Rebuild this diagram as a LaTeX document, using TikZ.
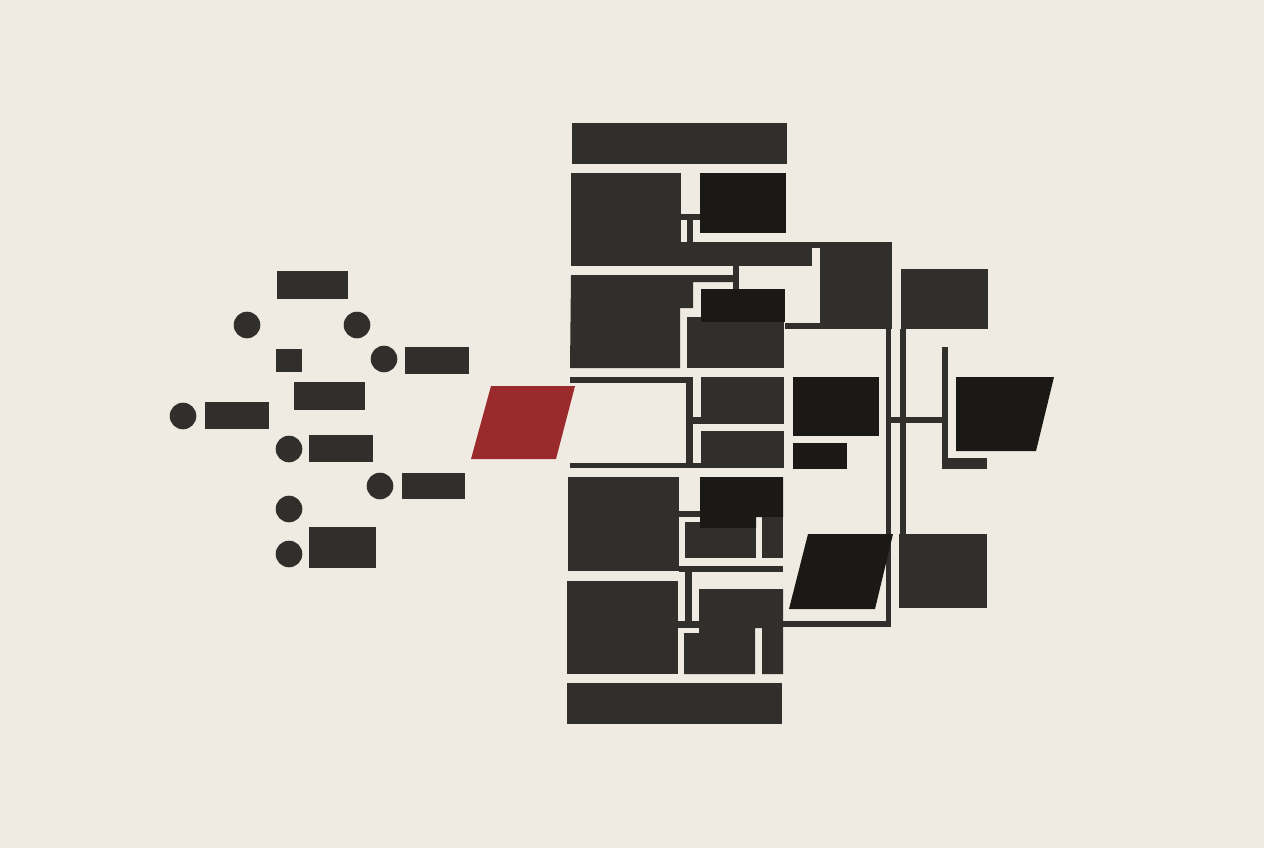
\documentclass[tikz,border=0pt]{standalone}
\usepackage{xcolor}
\definecolor{paper}{RGB}{239,235,226}
\definecolor{slab}{RGB}{48,47,44}
\definecolor{ink}{RGB}{26,25,22}
\definecolor{brick}{RGB}{155,42,44}

\begin{document}
\begin{tikzpicture}[x=0.02cm, y=-0.02cm,
        blk/.style={fill=slab},
        deep/.style={fill=ink},
        red/.style={fill=brick}]
    % paper
    \fill[paper] (0,0) rectangle (1264,848);
    \useasboundingbox (0,0) rectangle (1264,848);

    % loose dots and bars on the left
    \foreach \x/\y in {247/325, 357/325, 384/359, 183/416, 289/449, 380/486, 289/509, 289/554}
        \fill[blk] (\x,\y) circle (13.3);
    \foreach \a/\b/\c/\d in {277/271/348/299, 276/349/302/372, 405/347/469/374, 294/382/365/410,
                            205/402/269/429, 309/435/373/462, 402/473/465/499, 309/527/376/568}
        \fill[blk] (\a,\b) rectangle (\c,\d);

    % red slab
    \fill[red] (491,386) -- (575,386) -- (556,459) -- (471,459) -- cycle;

    % column: top
    \fill[blk] (572,123) rectangle (787,164);
    \fill[blk] (571,173) rectangle (681,266);
    \fill[blk] (681,214) rectangle (700,220);
    \fill[blk] (687,214) rectangle (693,242);
    \fill[blk] (571,242) rectangle (812,266);
    \fill[blk] (812,242) rectangle (820,248);
    \fill[blk] (820,242) rectangle (892,329);
    \fill[blk] (785,323) rectangle (892,329);
    \fill[deep] (700,173) rectangle (786,233);

    % column: second row
    \fill[blk] (571,275) -- (733,275) -- (733,282) -- (693,282) -- (693,308)
        -- (680,308) -- (680,368) -- (570,368) -- cycle;
    \fill[blk] (733,266) rectangle (739,290);
    \fill[blk] (687,317) rectangle (784,368);
    \fill[deep] (701,289) rectangle (785,322);

    % column: open frame
    \fill[blk] (570,377) rectangle (693,383);
    \fill[blk] (686,377) rectangle (693,468);
    \fill[blk] (570,463) rectangle (784,468);
    \fill[blk] (693,417) rectangle (701,424);
    \fill[blk] (701,377) rectangle (784,424);
    \fill[blk] (701,431) rectangle (784,468);

    % column: fourth row
    \fill[blk] (568,477) rectangle (679,571);
    \fill[blk] (679,511) rectangle (700,517);
    \fill[blk] (685,522) rectangle (756,558);
    \fill[deep] (700,477) -- (783,477) -- (783,517) -- (756,517) -- (756,528) -- (700,528) -- cycle;
    \fill[blk] (762,517) rectangle (783,558);
    \fill[blk] (679,566) rectangle (783,572);
    \fill[blk] (685,572) rectangle (692,621);

    % column: fifth row and base
    \fill[blk] (567,581) rectangle (678,674);
    \fill[blk] (678,621) rectangle (699,628);
    \fill[blk] (699,589) -- (783,589) -- (783,674) -- (762,674) -- (762,628) -- (755,628)
        -- (755,674) -- (684,674) -- (684,633) -- (699,633) -- cycle;
    \fill[blk] (783,621) rectangle (891,627);
    \fill[blk] (567,683) rectangle (782,724);

    % right branch
    \fill[deep] (793,377) rectangle (879,436);
    \fill[deep] (793,443) rectangle (847,469);
    \fill[blk] (886,266) rectangle (891,627);
    \fill[blk] (900,329) rectangle (906,534);
    \fill[blk] (901,269) rectangle (988,329);
    \fill[blk] (899,534) rectangle (987,608);
    \fill[blk] (891,417) rectangle (948,423);
    \fill[blk] (942,347) rectangle (948,469);
    \fill[blk] (942,458) rectangle (987,469);
    \fill[deep] (956,377) -- (1054,377) -- (1036,451) -- (956,451) -- cycle;
    \fill[deep] (808,534) -- (893,534) -- (875,609) -- (789,609) -- cycle;
\end{tikzpicture}
\end{document}
